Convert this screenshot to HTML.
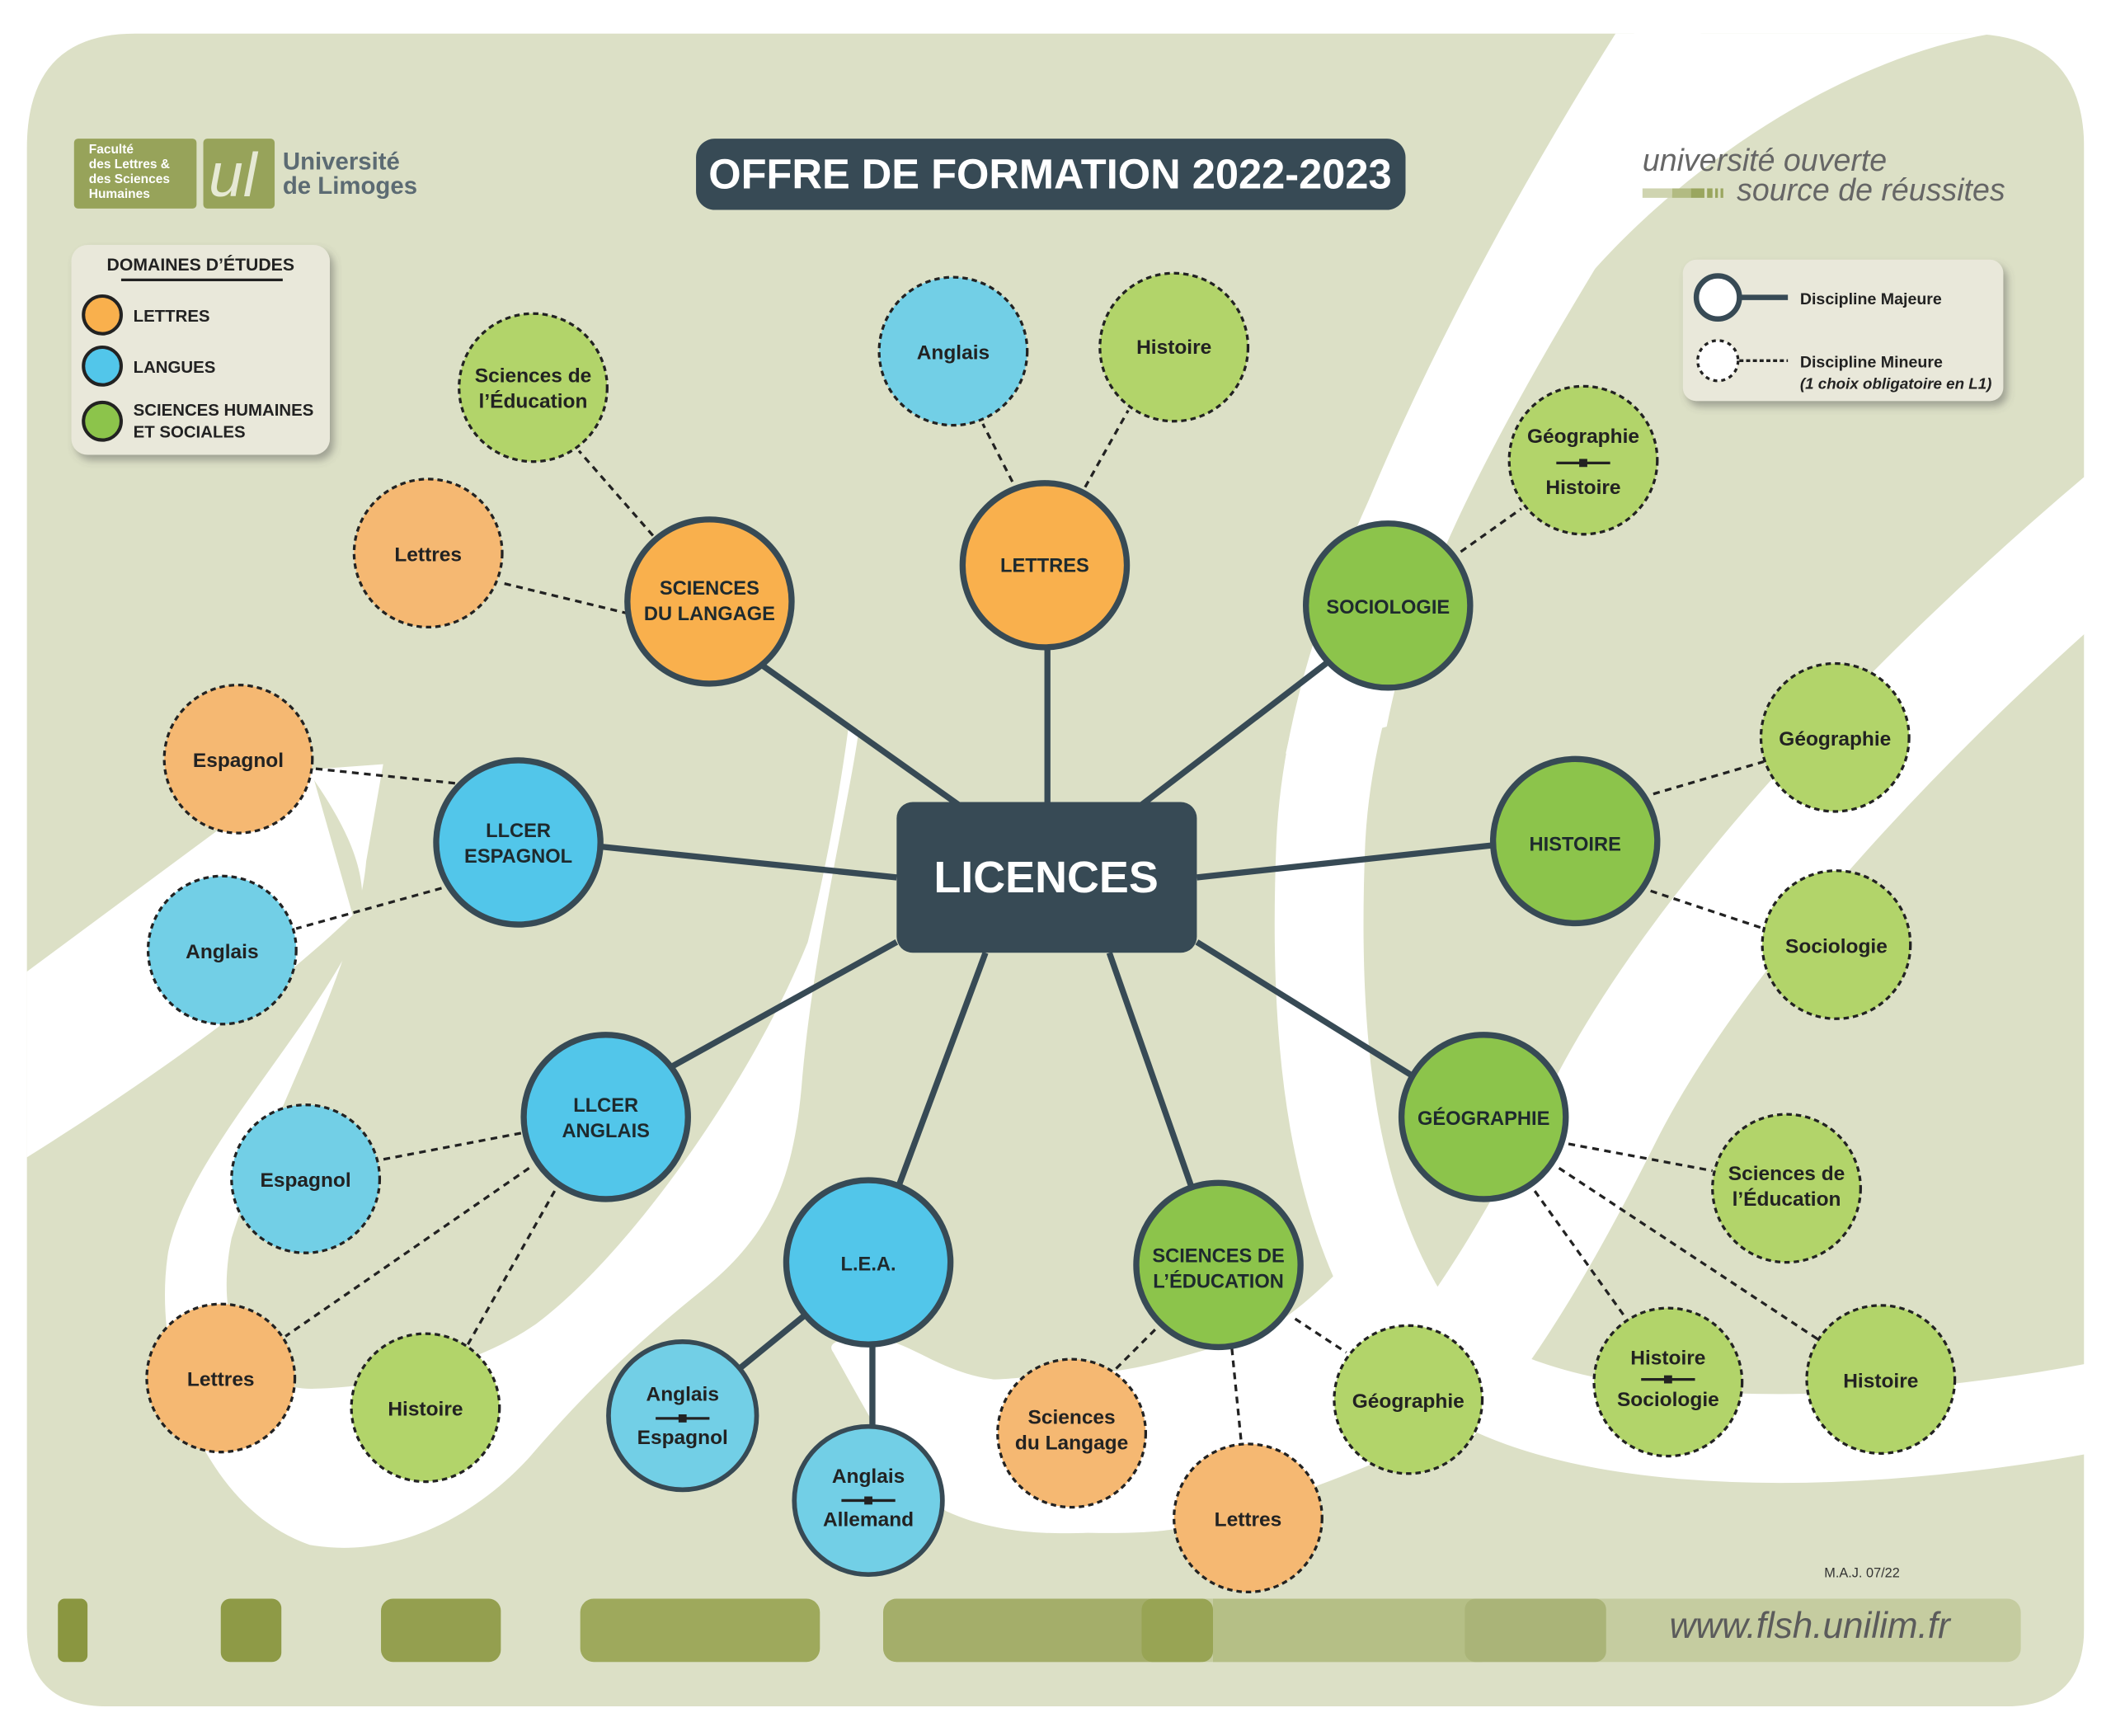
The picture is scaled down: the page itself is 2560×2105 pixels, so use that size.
<!DOCTYPE html>
<html><head><meta charset="utf-8"><style>
html,body{margin:0;padding:0;background:#fff;}
svg{display:block;}
text{font-family:"Liberation Sans",sans-serif;}
</style></head><body>
<svg width="2560" height="2105" viewBox="0 0 1568 1290" preserveAspectRatio="none" xmlns="http://www.w3.org/2000/svg">
<defs>
<filter id="sh" x="-10%" y="-10%" width="130%" height="140%"><feDropShadow dx="3" dy="4" stdDeviation="3" flood-color="#555" flood-opacity="0.45"/></filter>
</defs>
<rect width="1568" height="1290" fill="#fff"/>
<path d="M100,25 L1460,25 Q1548,25 1548,110 L1548,1210 Q1548,1268 1490,1268 L80,1268 Q20,1268 20,1210 L20,110 Q20,25 100,25 Z" fill="#dce0c6"/>
<path d="M228,572 C262,620 280,660 262,700 C220,780 140,860 125,930 C112,1010 150,1120 230,1148 C300,1160 360,1120 394,1082 C430,1040 470,1000 520,960 C570,920 590,880 596,800 C605,700 630,600 638,542 Z" fill="#fff"/>
<path d="M20,722 L159,619 C190,595 215,580 232,575 L262,680 C200,740 100,810 20,860 Z" fill="#fff"/>
<path d="M272,640 C265,720 200,830 172,920 C158,990 185,1032 232,1032 C300,1030 360,1010 398,984 C470,930 560,800 600,700 C615,640 625,580 630,542 L600,480 L300,480 Z" fill="#dce0c6"/>
<path d="M1019,919 C980,960 950,990 914,998 C870,1010 840,1020 808,1020 C770,1022 750,1025 738,1025 C700,1020 680,1000 655,995 C630,993 612,996 619,1005 C650,1060 670,1100 703,1123 C740,1140 780,1140 808,1139 C850,1140 870,1137 879,1135 C940,1120 990,1100 1019,1088 L1090,1061 Z" fill="#fff"/>
<path d="M1200,25 L1480,25 C1330,50 1180,180 1130,276 C1090,350 1050,440 1030,540 L955,560 C990,400 1090,200 1200,25 Z" fill="#fff"/>
<path d="M1255,20 C1150,200 990,420 981,627 C975,780 990,900 1050,990 C1120,1080 1350,1085 1560,1045" fill="none" stroke="#fff" stroke-width="66"/>
<path d="M1580,385 C1420,520 1260,690 1190,830 C1150,910 1110,980 1060,1040" fill="none" stroke="#fff" stroke-width="88"/>
<rect x="1548" y="0" width="20" height="1290" fill="#fff"/>
<rect x="0" y="1268" width="1568" height="22" fill="#fff"/>

<rect x="55" y="103" width="91" height="52" rx="3" fill="#97a35a"/>
<g fill="#fff" font-weight="bold" font-size="9.5"><text x="66" y="114">Faculté</text><text x="66" y="125">des Lettres &amp;</text><text x="66" y="136">des Sciences</text><text x="66" y="147">Humaines</text></g>
<rect x="151" y="103" width="53" height="52" rx="3" fill="#97a35a"/>
<text x="155" y="146" font-family="Liberation Serif" font-style="italic" font-size="46" fill="#e6e9d4">ul</text>
<g fill="#5c6b73" font-weight="bold" font-size="18"><text x="210" y="126">Université</text><text x="210" y="144">de Limoges</text></g>

<rect x="517" y="103" width="527" height="53" rx="14" fill="#374a55"/>
<text x="780" y="140" text-anchor="middle" font-weight="bold" font-size="31" fill="#fff">OFFRE DE FORMATION 2022-2023</text>

<text x="1220" y="127" font-style="italic" font-size="23" fill="#666">université ouverte</text>
<text x="1290" y="149" font-style="italic" font-size="23" fill="#666">source de réussites</text>
<rect x="1220" y="140" width="22" height="7" fill="#cfd4b0"/><rect x="1242" y="140" width="14" height="7" fill="#b2bb82"/><rect x="1256" y="140" width="10" height="7" fill="#9aa65f"/><rect x="1268" y="140" width="4" height="7" fill="#9aa65f"/><rect x="1274" y="140" width="2" height="7" fill="#9aa65f"/><rect x="1278" y="140" width="2" height="7" fill="#9aa65f"/>

<rect x="53" y="182" width="192" height="156" rx="12" fill="#e9e8da" filter="url(#sh)"/>
<text x="149" y="201" text-anchor="middle" font-weight="bold" font-size="13" fill="#222">DOMAINES D’ÉTUDES</text>
<line x1="90" y1="208" x2="210" y2="208" stroke="#222" stroke-width="2"/>
<circle cx="76" cy="234" r="14" fill="#f9b04d" stroke="#222" stroke-width="2.5"/>
<circle cx="76" cy="272" r="14" fill="#52c6ea" stroke="#222" stroke-width="2.5"/>
<circle cx="76" cy="313" r="14" fill="#8cc44b" stroke="#222" stroke-width="2.5"/>
<g font-weight="bold" font-size="12.5" fill="#222"><text x="99" y="239">LETTRES</text><text x="99" y="277">LANGUES</text><text x="99" y="309">SCIENCES HUMAINES</text><text x="99" y="325">ET SOCIALES</text></g>

<rect x="1250" y="193" width="238" height="105" rx="10" fill="#e9e8da" filter="url(#sh)"/>
<line x1="1290" y1="221" x2="1328" y2="221" stroke="#374a55" stroke-width="4"/>
<circle cx="1276" cy="221" r="16" fill="#fff" stroke="#374a55" stroke-width="4"/>
<line x1="1292" y1="268" x2="1328" y2="268" stroke="#222" stroke-width="2" stroke-dasharray="3,2"/>
<circle cx="1276" cy="268" r="15" fill="#fff" stroke="#222" stroke-width="2" stroke-dasharray="3,3"/>
<g font-size="12" fill="#222" font-weight="bold"><text x="1337" y="226">Discipline Majeure</text><text x="1337" y="273">Discipline Mineure</text></g>
<text x="1337" y="289" font-size="11.5" font-style="italic" fill="#222" font-weight="bold">(1 choix obligatoire en L1)</text>

<g stroke="#374a55" stroke-width="4.5" fill="none">
<line x1="560" y1="490" x2="712" y2="598"/>
<line x1="778" y1="480" x2="778" y2="598"/>
<line x1="985" y1="493" x2="848" y2="598"/>
<line x1="889" y1="652" x2="1110" y2="628"/>
<line x1="889" y1="700" x2="1050" y2="800"/>
<line x1="824" y1="708" x2="885" y2="882"/>
<line x1="732" y1="708" x2="668" y2="880"/>
<line x1="666" y1="700" x2="500" y2="792"/>
<line x1="445" y1="629" x2="666" y2="652"/>
<line x1="597" y1="978" x2="548" y2="1018"/>
<line x1="648" y1="998" x2="648" y2="1062"/>
</g>
<g stroke="#222" stroke-width="2" stroke-dasharray="5,4" fill="none">
<line x1="485" y1="398" x2="430" y2="335"/>
<line x1="467" y1="456" x2="372" y2="433"/>
<line x1="752" y1="358" x2="730" y2="315"/>
<line x1="806" y1="362" x2="838" y2="305"/>
<line x1="1085" y1="410" x2="1130" y2="378"/>
<line x1="1228" y1="590" x2="1310" y2="566"/>
<line x1="1226" y1="662" x2="1310" y2="690"/>
<line x1="1165" y1="850" x2="1272" y2="870"/>
<line x1="1158" y1="868" x2="1350" y2="995"/>
<line x1="1140" y1="885" x2="1208" y2="980"/>
<line x1="962" y1="980" x2="1000" y2="1005"/>
<line x1="915" y1="1002" x2="922" y2="1072"/>
<line x1="858" y1="988" x2="828" y2="1018"/>
<line x1="387" y1="842" x2="282" y2="862"/>
<line x1="393" y1="868" x2="212" y2="993"/>
<line x1="412" y1="885" x2="347" y2="1000"/>
<line x1="338" y1="582" x2="232" y2="571"/>
<line x1="328" y1="660" x2="220" y2="690"/>
</g>

<rect x="666" y="596" width="223" height="112" rx="12" fill="#374a55"/>
<text x="777" y="663" text-anchor="middle" font-weight="bold" font-size="33" fill="#fff">LICENCES</text>

<g stroke="#374a55" stroke-width="4.5">
<circle cx="527" cy="447" r="61" fill="#f9b04d"/>
<circle cx="776" cy="420" r="61" fill="#f9b04d"/>
<circle cx="1031" cy="450" r="61" fill="#8cc44b"/>
<circle cx="1170" cy="625" r="61" fill="#8cc44b"/>
<circle cx="1102" cy="830" r="61" fill="#8cc44b"/>
<circle cx="905" cy="940" r="61" fill="#8cc44b"/>
<circle cx="645" cy="938" r="61" fill="#52c6ea"/>
<circle cx="450" cy="830" r="61" fill="#52c6ea"/>
<circle cx="385" cy="626" r="61" fill="#52c6ea"/>
</g>
<g font-weight="bold" font-size="14.5" fill="#1e2a2e" text-anchor="middle">
<text x="527" y="442">SCIENCES</text><text x="527" y="461">DU LANGAGE</text>
<text x="776" y="425">LETTRES</text>
<text x="1031" y="456">SOCIOLOGIE</text>
<text x="1170" y="632">HISTOIRE</text>
<text x="1102" y="836">GÉOGRAPHIE</text>
<text x="905" y="938">SCIENCES DE</text><text x="905" y="957">L’ÉDUCATION</text>
<text x="645" y="944">L.E.A.</text>
<text x="450" y="826">LLCER</text><text x="450" y="845">ANGLAIS</text>
<text x="385" y="622">LLCER</text><text x="385" y="641">ESPAGNOL</text>
</g>

<g stroke="#222" stroke-width="2" stroke-dasharray="4,3">
<circle cx="396" cy="288" r="55" fill="#b2d46a"/>
<circle cx="318" cy="411" r="55" fill="#f5b872"/>
<circle cx="708" cy="261" r="55" fill="#72cfe6"/>
<circle cx="872" cy="258" r="55" fill="#b2d46a"/>
<circle cx="1176" cy="342" r="55" fill="#b2d46a"/>
<circle cx="1363" cy="548" r="55" fill="#b2d46a"/>
<circle cx="1364" cy="702" r="55" fill="#b2d46a"/>
<circle cx="1327" cy="883" r="55" fill="#b2d46a"/>
<circle cx="1397" cy="1025" r="55" fill="#b2d46a"/>
<circle cx="1239" cy="1027" r="55" fill="#b2d46a"/>
<circle cx="1046" cy="1040" r="55" fill="#b2d46a"/>
<circle cx="927" cy="1128" r="55" fill="#f5b872"/>
<circle cx="796" cy="1065" r="55" fill="#f5b872"/>
<circle cx="316" cy="1046" r="55" fill="#b2d46a"/>
<circle cx="164" cy="1024" r="55" fill="#f5b872"/>
<circle cx="227" cy="876" r="55" fill="#72cfe6"/>
<circle cx="165" cy="706" r="55" fill="#72cfe6"/>
<circle cx="177" cy="564" r="55" fill="#f5b872"/>
</g>
<g stroke="#374a55" stroke-width="3.5">
<circle cx="507" cy="1052" r="55" fill="#72cfe6"/>
<circle cx="645" cy="1115" r="55" fill="#72cfe6"/>
</g>
<g font-weight="bold" font-size="15" fill="#222" text-anchor="middle">
<text x="396" y="284">Sciences de</text><text x="396" y="303">l’Éducation</text>
<text x="318" y="417">Lettres</text>
<text x="708" y="267">Anglais</text>
<text x="872" y="263">Histoire</text>
<text x="1176" y="329">Géographie</text><text x="1176" y="367">Histoire</text>
<text x="1363" y="554">Géographie</text>
<text x="1364" y="708">Sociologie</text>
<text x="1327" y="877">Sciences de</text><text x="1327" y="896">l’Éducation</text>
<text x="1397" y="1031">Histoire</text>
<text x="1239" y="1014">Histoire</text><text x="1239" y="1045">Sociologie</text>
<text x="1046" y="1046">Géographie</text>
<text x="927" y="1134">Lettres</text>
<text x="796" y="1058">Sciences</text><text x="796" y="1077">du Langage</text>
<text x="316" y="1052">Histoire</text>
<text x="164" y="1030">Lettres</text>
<text x="227" y="882">Espagnol</text>
<text x="165" y="712">Anglais</text>
<text x="177" y="570">Espagnol</text>
<text x="507" y="1041">Anglais</text><text x="507" y="1073">Espagnol</text>
<text x="645" y="1102">Anglais</text><text x="645" y="1134">Allemand</text>
</g>
<g stroke="#222" stroke-width="2">
<line x1="1156" y1="344" x2="1196" y2="344"/><line x1="1219" y1="1025" x2="1259" y2="1025"/>
<line x1="487" y1="1054" x2="527" y2="1054"/><line x1="625" y1="1115" x2="665" y2="1115"/>
</g>
<g fill="#222">
<rect x="1173" y="341" width="6" height="6"/><rect x="1236" y="1022" width="6" height="6"/>
<rect x="504" y="1051" width="6" height="6"/><rect x="642" y="1112" width="6" height="6"/>
</g>

<text x="1355" y="1172" font-size="10" fill="#333">M.A.J. 07/22</text>
<rect x="43" y="1188" width="22" height="47" rx="5" fill="#8a9640"/>
<rect x="164" y="1188" width="45" height="47" rx="7" fill="#8e9a46"/>
<rect x="283" y="1188" width="89" height="47" rx="9" fill="#949f4f"/>
<rect x="431" y="1188" width="178" height="47" rx="10" fill="#9ea95c"/>
<rect x="656" y="1188" width="845" height="47" rx="10" fill="#c5cca0"/>
<rect x="656" y="1188" width="245" height="47" rx="10" fill="#a4ae6a"/>
<rect x="848" y="1188" width="53" height="47" rx="8" fill="#98a454"/>
<rect x="901" y="1188" width="200" height="47" fill="#b5bf86"/>
<rect x="1088" y="1188" width="105" height="47" rx="8" fill="#aab478"/>
<text x="1240" y="1217" font-style="italic" font-size="27" fill="#5b5b5b">www.flsh.unilim.fr</text>
</svg>
</body></html>
